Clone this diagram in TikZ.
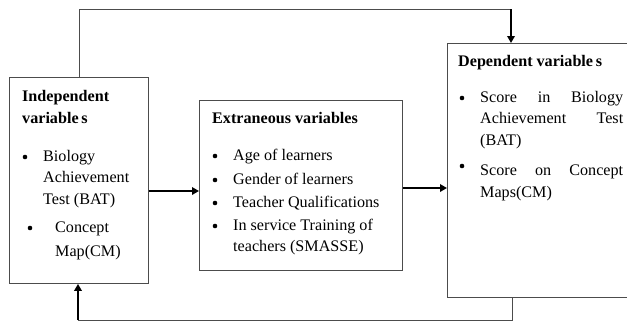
\documentclass[tikz,border=0pt]{standalone}
\usepackage{fontspec}
\setmainfont{Liberation Serif}
\usetikzlibrary{arrows.meta}
\begin{document}
\begin{tikzpicture}[x=1bp,y=-1bp,
  box/.style={draw=black!70, line width=0.9bp, inner sep=0, anchor=north west},
  txt/.style={inner sep=0, anchor=north west, align=left, font=\fontsize{16.2}{21.5}\selectfont},
  ttl/.style={txt, font=\fontsize{16.2}{22.5}\selectfont\bfseries},
  dot/.style={circle, fill=black, inner sep=0, minimum size=4.6bp},
  link/.style={draw=black!70, line width=1bp},
  flow/.style={draw=black, line width=2.2bp, -{Triangle[length=7bp,width=7.5bp]}}]
\useasboundingbox (0,0) rectangle (627,322);

% the three boxes
\node[box, minimum width=139bp, minimum height=206bp] (indep) at (9,77) {};
\node[box, minimum width=203bp, minimum height=170bp] (mid) at (199,100) {};
\node[box, minimum width=190bp, minimum height=254bp] (dep) at (447,43) {};

% independent variables
\node[ttl] (indepT) at (22,90) {Independent\\variable\,s};
\node[dot] (ib1) at (25,157) {};
\node[txt] (ii1) at (43,150) {Biology\\Achievement\\Test (BAT)};
\node[dot] (ib2) at (30,228) {};
\node[txt, font=\fontsize{16.2}{24}\selectfont] (ii2) at (55,222) {Concept\\Map(CM)};

% extraneous variables
\node[ttl] (midT) at (212,112) {Extraneous variables};
\node[dot] (mb1) at (215,156) {};
\node[txt] (mi1) at (233,149) {Age of learners};
\node[dot] (mb2) at (215,180) {};
\node[txt] (mi2) at (233,173) {Gender of learners};
\node[dot] (mb3) at (215,203) {};
\node[txt] (mi3) at (233,196) {Teacher Qualifications};
\node[dot] (mb4) at (215,226) {};
\node[txt] (mi4) at (233,219) {In service Training of\\teachers (SMASSE)};

% dependent variables
\node[ttl] (depT) at (458,55) {Dependent variable\,s};
\node[dot] (db1) at (462,98) {};
\node[txt] (di1) at (480,91) {\makebox[143bp][s]{Score in Biology}\\\makebox[143bp][s]{Achievement Test}\\(BAT)};
\node[dot] (db2) at (462,166) {};
\node[txt] (di2) at (480,165) {\makebox[143bp][s]{Score on Concept}\\Maps(CM)};

% feedback loops
\coordinate (tl) at (79,9);
\coordinate (tr) at (511,9);
\coordinate (bl) at (78,320);
\coordinate (br) at (512,320);
\draw[link] (indep.north -| tl) -- (tl) -- (tr);
\draw[flow] (tr) -- (dep.north -| tr);
\draw[link] (dep.south -| br) -- (br) -- (bl);
\draw[flow] (bl) -- (indep.south -| bl);

% main flow
\coordinate (h1) at (0,191);
\coordinate (h2) at (0,188);
\draw[flow] (indep.east |- h1) -- (mid.west |- h1);
\draw[flow] (mid.east |- h2) -- (dep.west |- h2);
\end{tikzpicture}
\end{document}
